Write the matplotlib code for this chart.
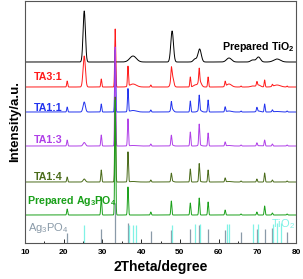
"""
Stacked XRD patterns: TiO2, Ag3PO4 and TiO2/Ag3PO4 composites (TA x:y),
with reference stick patterns at the bottom.

Output: out.png (~303x279 px)
"""

import matplotlib
matplotlib.use("Agg")
import matplotlib.pyplot as plt
import numpy as np

plt.rcParams["font.family"] = ["Liberation Sans", "DejaVu Sans"]
plt.rcParams["mathtext.default"] = "regular"

# peak positions (2theta, degrees)
TIO2_POS = [25.3, 37.9, 48.0, 53.9, 55.1, 62.7, 68.8, 70.3, 75.1]
TIO2_FWHM = [0.7, 2.0, 0.8, 1.0, 1.0, 1.5, 1.2, 1.2, 2.0]
AG_POS = [20.9, 29.7, 33.3, 36.6, 42.5, 47.8, 52.7, 55.0, 57.3,
          61.7, 65.8, 69.9, 71.9, 73.9, 77.7]
AG_FWHM = 0.3

# patterns, top to bottom: label, vertical offset, TiO2 peak heights, Ag3PO4 peak heights
SAMPLES = ["Prepared TiO$_2$", "TA3:1", "TA1:1", "TA1:3", "TA1:4", "Prepared Ag$_3$PO$_4$"]
OFFSETS = [181, 156, 131, 97, 61, 28]
TIO2_H = [
    [51, 6, 31, 3, 13, 4, 2, 5, 3],
    [31, 3, 12, 2, 6, 3, 1, 2, 2],
    [10, 1.5, 3, 0, 2, 1, 0, 1, 0.5],
    [3.5, 0.5, 1, 0, 1, 0.5, 0, 0.3, 0],
    [3, 0.5, 1, 0, 0.5, 0.5, 0, 0, 0],
    [0, 0, 0, 0, 0, 0, 0, 0, 0],
]
AG_H = [
    [0] * 15,
    [6, 8, 58, 20, 2, 10, 10, 13, 10, 5, 1, 4, 7, 2, 1],
    [5, 8, 62, 23, 2, 8, 11, 15, 12, 5, 1, 4, 8, 2, 1],
    [6, 11, 99, 27, 2, 10, 14, 21, 13, 4, 1, 3, 6, 2, 1],
    [5, 12, 85, 30, 2, 8, 13, 18, 12, 4, 1, 3, 9, 2, 1],
    [6, 18, 115, 28, 3, 14, 12, 17, 13, 5, 1, 3, 9, 2, 1],
]
COLORS = ["black", "#ff1a1a", "#2233ee", "#b040e8", "#4a6b1a", "#1aa01a"]

# reference stick patterns
AG_REF_POS = AG_POS
AG_REF_H = [10, 14, 40, 20, 12, 13, 14, 18, 14, 13, 11, 14, 14, 15, 11]
TIO2_REF_POS = [25.3, 36.9, 37.8, 38.6, 48.05, 53.9, 55.1, 62.1, 62.7,
                68.8, 70.3, 74.0, 75.0, 76.0]
TIO2_REF_H = [18, 18, 18, 18, 18, 19, 19, 19, 19, 19, 19, 19, 20, 20]

X_TICKS = [10, 20, 30, 40, 50, 60, 70, 80]


def profile(x, pos, heights, fwhm):
    y = np.zeros_like(x)
    if np.isscalar(fwhm):
        fwhm = [fwhm] * len(pos)
    for p, h, w in zip(pos, heights, fwhm):
        s = w / 2.3548
        y += h * np.exp(-0.5 * ((x - p) / s) ** 2)
    return y


def main():
    fig = plt.figure(figsize=(3.03, 2.79), dpi=100)
    ax = fig.add_axes([25 / 303, 36 / 279, 271 / 303, 242 / 279])

    x = np.linspace(10, 80, 3501)
    for i, name in enumerate(SAMPLES):
        y = OFFSETS[i] + profile(x, TIO2_POS, TIO2_H[i], TIO2_FWHM) \
            + profile(x, AG_POS, AG_H[i], AG_FWHM)
        ax.plot(x, y, color=COLORS[i], lw=0.7)

    ax.vlines(AG_REF_POS, 0, AG_REF_H, color="#8a9aa8", lw=0.9)
    ax.vlines(TIO2_REF_POS, 0, TIO2_REF_H, color="#80f2e6", lw=0.9)

    # labels
    bold = dict(fontsize=7.7, fontweight="bold")
    ax.text(79.6, 196, SAMPLES[0], color=COLORS[0], ha="right", va="center", **bold)
    ax.text(12.2, 166, SAMPLES[1], color=COLORS[1], ha="left", va="center", **bold)
    ax.text(12.2, 135, SAMPLES[2], color=COLORS[2], ha="left", va="center", **bold)
    ax.text(12.2, 103, SAMPLES[3], color=COLORS[3], ha="left", va="center", **bold)
    ax.text(12.2, 66, SAMPLES[4], color=COLORS[4], ha="left", va="center", **bold)
    ax.text(10.6, 42, SAMPLES[5], color=COLORS[5], ha="left", va="center", **bold)
    ax.text(10.8, 15, "Ag$_3$PO$_4$", color="#8a9aa8", ha="left", va="center", fontsize=8)
    ax.text(79.8, 19, "TiO$_2$", color="#80f2e6", ha="right", va="center", fontsize=8)

    ax.set_xlim(10, 80)
    ax.set_ylim(0, 242)
    ax.set_xticks(X_TICKS)
    ax.set_xticks(np.arange(15, 80, 10), minor=True)
    ax.set_yticks([])
    ax.tick_params(axis="x", which="major", direction="in", length=3, width=0.6,
                   labelsize=6, pad=4)
    ax.tick_params(axis="x", which="minor", direction="in", length=1.8, width=0.6)
    for lab in ax.get_xticklabels():
        lab.set_fontweight("bold")
    for sp in ax.spines.values():
        sp.set_color("#555555")
        sp.set_linewidth(0.8)

    ax.set_xlabel("2Theta/degree", fontsize=10, fontweight="bold", labelpad=3)
    ax.set_ylabel("Intensity/a.u.", fontsize=9.5, fontweight="bold", labelpad=3)

    fig.savefig("out.png", dpi=100)
    plt.close(fig)


if __name__ == "__main__":
    main()
